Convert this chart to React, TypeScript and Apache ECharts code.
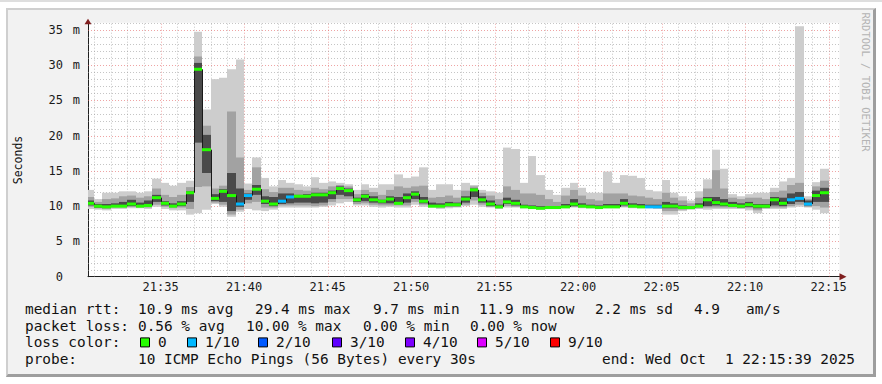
import React, { useEffect, useRef } from 'react';
import * as echarts from 'echarts';

// ---- time base (seconds since midnight) ----
const AXIS_START = '21:30:39';
const AXIS_END = '22:15:39';
const FIRST_STEP = '21:30:30';
const STEP_SECONDS = 30;
const Y_MAX_MS = 36;

// ---- median rtt per 30 s step (ms) ----
const medianMs = [
  10.4, 10.0, 9.9, 10.0, 10.0, 10.3, 10.0, 10.1, 11.2, 10.4,
  10.0, 10.3, 11.9, 29.4, 18.0, 11.1, 12.1, 11.5, 10.3, 11.5,
  12.4, 10.7, 10.3, 10.7, 11.3, 11.4, 11.4, 11.6, 11.6, 11.9,
  12.5, 12.2, 10.9, 11.4, 10.9, 10.7, 11.0, 10.4, 11.2, 11.7,
  10.7, 10.0, 10.0, 10.2, 10.2, 11.0, 12.3, 10.9, 10.3, 9.9,
  10.6, 10.4, 9.9, 9.8, 9.7, 9.8, 9.8, 9.9, 10.3, 10.0,
  9.9, 9.8, 9.9, 9.9, 10.4, 10.0, 9.9, 9.9, 9.9, 10.0,
  10.0, 9.8, 9.8, 10.0, 10.9, 10.5, 10.3, 10.1, 10.0, 10.2,
  10.0, 10.0, 10.9, 10.4, 10.9, 11.1, 10.3, 11.5, 11.9,
];

// ---- lost pings per step (out of 10) ----
const lossTenths = [
  0, 0, 0, 0, 0, 0, 0, 0, 0, 0,
  0, 0, 0, 0, 0, 0, 0, 0, 1, 1,
  0, 0, 0, 1, 1, 0, 0, 0, 0, 0,
  0, 0, 0, 0, 0, 0, 0, 0, 0, 0,
  0, 0, 0, 0, 0, 0, 0, 0, 0, 0,
  0, 0, 0, 0, 0, 0, 0, 0, 0, 0,
  0, 0, 0, 0, 0, 0, 0, 1, 1, 0,
  0, 0, 0, 0, 0, 0, 0, 0, 0, 0,
  0, 0, 0, 0, 1, 1, 1, 0, 0,
];

// ---- smoke: sorted ping spread per step (ms) ----
const pingMin = [
  9.6, 9.5, 9.4, 9.6, 9.6, 9.7, 9.7, 9.6, 9.9, 9.6,
  9.4, 9.4, 8.8, 9.0, 9.5, 10.3, 9.9, 8.5, 9.2, 9.6,
  9.4, 9.3, 9.5, 9.8, 9.8, 9.8, 9.8, 9.8, 9.9, 10.1,
  10.4, 10.6, 10.1, 10.1, 9.9, 9.8, 9.9, 9.8, 9.8, 10.2,
  9.9, 9.8, 9.6, 9.7, 9.8, 10.0, 10.2, 9.9, 9.8, 9.6,
  9.8, 9.8, 9.7, 9.6, 9.5, 9.6, 9.7, 9.7, 9.8, 9.7,
  9.7, 9.6, 9.7, 9.7, 9.8, 9.7, 9.7, 9.7, 9.6, 8.8,
  8.8, 9.3, 9.5, 9.6, 9.5, 9.6, 9.6, 9.6, 9.6, 9.4,
  9.0, 9.6, 9.6, 9.6, 9.8, 9.9, 9.8, 9.5, 9.0,
];
const pingLo2 = [
  9.9, 9.7, 9.6, 9.8, 9.8, 9.9, 9.8, 9.8, 10.2, 9.9,
  9.7, 9.8, 9.6, 12.7, 12.8, 10.5, 10.2, 8.8, 9.5, 10.4,
  10.6, 9.8, 9.8, 10.1, 10.1, 10.1, 10.1, 10.0, 10.1, 10.6,
  11.0, 11.0, 10.3, 10.4, 10.2, 10.1, 10.1, 10.1, 10.1, 10.6,
  10.2, 9.9, 9.8, 9.9, 9.9, 10.2, 10.8, 10.2, 9.9, 9.7,
  10.0, 9.9, 9.8, 9.7, 9.6, 9.7, 9.75, 9.8, 9.9, 9.8,
  9.8, 9.7, 9.8, 9.8, 9.9, 9.8, 9.8, 9.8, 9.7, 9.3,
  9.3, 9.5, 9.6, 9.7, 9.8, 9.8, 9.8, 9.8, 9.7, 9.7,
  9.4, 9.7, 9.8, 9.8, 10.0, 10.2, 9.9, 10.0, 9.8,
];
const pingLo3 = [
  10.1, 9.8, 9.8, 9.9, 9.9, 10.0, 9.9, 10.0, 10.6, 10.1,
  9.9, 10.0, 10.6, 19.0, 14.7, 10.7, 10.6, 9.3, 9.9, 10.9,
  11.6, 10.3, 10.0, 10.3, 10.4, 10.5, 10.5, 10.4, 10.5, 11.0,
  11.6, 11.4, 10.6, 10.7, 10.5, 10.4, 10.4, 10.3, 10.5, 11.0,
  10.4, 9.95, 9.9, 10.0, 10.0, 10.5, 11.3, 10.5, 10.0, 9.8,
  10.3, 10.1, 9.85, 9.75, 9.65, 9.75, 9.8, 9.85, 10.0, 9.9,
  9.85, 9.75, 9.85, 9.85, 10.1, 9.9, 9.85, 9.85, 9.8, 9.7,
  9.7, 9.7, 9.7, 9.9, 10.0, 10.1, 10.0, 9.9, 9.8, 9.9,
  9.7, 9.8, 10.1, 10.0, 10.3, 10.6, 10.1, 10.6, 10.6,
];
const pingHi3 = [
  10.8, 10.3, 10.3, 10.4, 10.6, 10.9, 10.5, 10.8, 11.6, 10.7,
  10.4, 10.7, 12.1, 30.3, 20.1, 11.7, 12.4, 14.7, 12.5, 11.8,
  13.0, 11.4, 11.3, 11.8, 11.8, 11.6, 11.7, 11.9, 11.9, 12.2,
  12.8, 12.5, 11.2, 11.7, 11.4, 10.9, 11.4, 11.3, 11.8, 12.1,
  11.3, 10.5, 10.4, 10.6, 10.5, 11.4, 12.5, 11.4, 10.8, 10.2,
  11.2, 10.9, 10.2, 10.1, 10.0, 10.0, 10.0, 10.3, 11.0, 10.4,
  10.2, 10.1, 10.3, 10.3, 11.0, 10.4, 10.3, 10.2, 10.2, 10.6,
  10.4, 10.1, 10.0, 10.4, 11.3, 11.3, 11.0, 10.6, 10.4, 10.6,
  10.3, 10.3, 11.3, 11.2, 11.8, 12.0, 10.8, 12.2, 12.6,
];
const pingHi2 = [
  11.3, 10.6, 11.0, 11.1, 11.4, 11.5, 11.2, 11.4, 12.5, 11.6,
  11.3, 11.6, 12.7, 31.2, 21.4, 12.5, 12.9, 23.4, 16.9, 12.3,
  15.5, 12.4, 12.0, 12.6, 12.6, 12.3, 12.2, 12.6, 12.4, 12.8,
  13.0, 12.8, 11.7, 12.3, 12.0, 11.6, 12.3, 12.8, 12.6, 12.8,
  12.9, 11.2, 11.3, 11.5, 11.2, 12.2, 12.8, 11.9, 11.5, 11.0,
  12.8, 12.3, 11.8, 11.8, 11.6, 11.0, 10.6, 11.5, 12.3, 11.5,
  11.0, 10.8, 11.8, 11.8, 11.8, 11.5, 11.4, 11.2, 11.0, 11.9,
  11.2, 10.8, 10.4, 11.2, 12.5, 15.1, 12.5, 11.2, 11.0, 11.2,
  11.2, 11.0, 12.0, 12.2, 13.0, 13.3, 11.0, 12.8, 13.6,
];
const pingMax = [
  12.3, 11.0, 11.9, 11.9, 12.1, 12.1, 11.9, 12.1, 13.9, 13.3,
  12.9, 13.3, 13.6, 34.7, 23.7, 28.0, 28.2, 29.4, 30.8, 13.2,
  16.9, 14.0, 12.8, 13.7, 13.3, 13.1, 12.8, 14.1, 13.3, 13.5,
  13.3, 13.1, 12.3, 13.1, 12.6, 13.1, 13.1, 14.5, 14.0, 14.2,
  15.5, 12.3, 13.1, 13.1, 12.3, 13.3, 13.0, 12.3, 12.1, 11.9,
  18.3, 18.1, 13.3, 17.1, 14.4, 12.3, 11.6, 12.6, 13.3, 12.6,
  11.9, 11.9, 14.9, 13.3, 14.4, 14.3, 14.0, 12.3, 12.1, 13.7,
  11.9, 11.4, 10.8, 12.1, 13.8, 18.0, 15.3, 11.7, 11.4, 11.7,
  11.9, 11.9, 12.6, 13.5, 14.0, 35.5, 11.4, 13.4, 15.3,
];

// ---- legend texts ----
const medianStats = ['10.9 ms avg', '29.4 ms max', '9.7 ms min', '11.9 ms now', '2.2 ms sd', '4.9', 'am/s'];
const lossStats = ['0.56 % avg', '10.00 % max', '0.00 % min', '0.00 % now'];
const lossSteps = [0, 1, 2, 3, 4, 5, 9];
const lossLabels = ['0', '1/10', '2/10', '3/10', '4/10', '5/10', '9/10'];
const lossColors = ['#26ff00', '#00b8ff', '#0059ff', '#5e00ff', '#7e00ff', '#dd00ff', '#ff0000'];
const rowTitles = ['median rtt:', 'packet loss:', 'loss color:', 'probe:'];
const probeText = '10 ICMP Echo Pings (56 Bytes) every 30s';
const endTextA = 'end: Wed Oct';
const endTextB = '1 22:15:39 2025';
const yAxisName = 'Seconds';
const watermark = 'RRDTOOL / TOBI OETIKER';

// ---- layout ----
const GRID = { left: 88, top: 22.7, width: 751.5, height: 254 };
const MONO = "'DejaVu Sans Mono', 'Liberation Mono', monospace";
const LEG_FONT = 14.4;
const AX_FONT = 12;
const ROW_Y = [309, 325.7, 342.4, 359];
const MED_X = [138, 255, 373, 479, 595, 694, 746];
const LOSS_X = [138, 246, 363, 470];
const BOX_X = [140, 187, 258, 332, 405, 477, 550];

const toSec = (s: string) => {
  const [h, m, sec] = s.split(':').map(Number);
  return h * 3600 + m * 60 + sec;
};
const X_MIN = toSec(AXIS_START);
const X_MAX = toSec(AXIS_END);
const stepStart = (i: number) => toSec(FIRST_STEP) + i * STEP_SECONDS;
const pad = (n: number) => (n < 10 ? '0' + n : '' + n);
const fmtTime = (v: number) => pad(Math.floor(v / 3600)) + ':' + pad(Math.floor((v % 3600) / 60));
const lossColor = (l: number) => lossColors[Math.max(0, lossSteps.indexOf(l))];

export default function App() {
  const ref = useRef<HTMLDivElement>(null);
  useEffect(() => {
    if (!ref.current) return;
    const chart = echarts.init(ref.current, undefined, { renderer: 'svg' });

    const smokeData = medianMs.map((_, i) => [
      stepStart(i), stepStart(i) + STEP_SECONDS,
      pingMin[i], pingLo2[i], pingLo3[i], pingHi3[i], pingHi2[i], pingMax[i],
    ]);
    const medianData = medianMs.map((m, i) => [
      stepStart(i), stepStart(i) + STEP_SECONDS, m, i > 0 ? medianMs[i - 1] : m, lossTenths[i],
    ]);
    const gridData: number[][] = [];
    for (let t = Math.ceil(X_MIN / 60) * 60; t < X_MAX; t += 60) gridData.push([0, t, t % 300 === 0 ? 1 : 0]);
    for (let v = 1; v <= Y_MAX_MS; v++) gridData.push([1, v, v % 5 === 0 ? 1 : 0]);

    const MINOR = 'rgba(150,150,150,0.55)';
    const MAJOR = 'rgba(225,90,90,0.55)';

    const textEl = (text: string, x: number, y: number, extra: any = {}) => ({
      type: 'text', x, y, z: 10, silent: true,
      style: { text, fontFamily: MONO, fontSize: LEG_FONT, fill: '#111', align: 'left', verticalAlign: 'middle', ...extra },
    });

    const graphics: any[] = [];
    rowTitles.forEach((t, r) => graphics.push(textEl(t, 25, ROW_Y[r])));
    medianStats.forEach((t, i) => graphics.push(textEl(t, MED_X[i], ROW_Y[0])));
    lossStats.forEach((t, i) => graphics.push(textEl(t, LOSS_X[i], ROW_Y[1])));
    lossLabels.forEach((t, i) => {
      graphics.push({
        type: 'rect', z: 10, silent: true,
        shape: { x: BOX_X[i] + 0.5, y: ROW_Y[2] - 4.5, width: 9, height: 9 },
        style: { fill: lossColors[i], stroke: '#000', lineWidth: 1 },
      });
      graphics.push(textEl(t, BOX_X[i] + 18, ROW_Y[2]));
    });
    graphics.push(textEl(probeText, 138, ROW_Y[3]));
    graphics.push(textEl(endTextA, 602, ROW_Y[3]));
    graphics.push(textEl(endTextB, 855, ROW_Y[3], { align: 'right' }));
    const nameEl: any = textEl(yAxisName, 18, 160, { align: 'center', fontSize: 11.5 });
    nameEl.rotation = Math.PI / 2;
    graphics.push(nameEl);
    graphics.push({
      type: 'text', x: 866, y: 82, z: 10, silent: true, rotation: -Math.PI / 2,
      style: { text: watermark, fontFamily: MONO, fontSize: 10.5, fill: '#b4b4b4', align: 'center', verticalAlign: 'middle' },
    });
    // axis arrows
    const gx = GRID.left, gy = GRID.top, gb = GRID.top + GRID.height, gr = GRID.left + GRID.width;
    graphics.push({
      type: 'polygon', z: 12, silent: true,
      shape: { points: [[gx - 3.5, gy + 1.5], [gx + 3.5, gy + 1.5], [gx, gy - 4]] },
      style: { fill: '#801f1f' },
    });
    graphics.push({
      type: 'polygon', z: 12, silent: true,
      shape: { points: [[gr, gb - 3.5], [gr, gb + 3.5], [gr + 7, gb]] },
      style: { fill: '#801f1f' },
    });

    chart.setOption({
      animation: false,
      grid: { ...GRID, show: true, backgroundColor: '#ffffff', borderWidth: 0, containLabel: false },
      xAxis: {
        type: 'value', min: X_MIN, max: X_MAX, minInterval: 300, maxInterval: 300,
        axisLine: { show: true, onZero: false, lineStyle: { color: '#1f1f1f', width: 1 } },
        axisTick: { show: false },
        splitLine: { show: false },
        axisLabel: {
          formatter: (v: number) => fmtTime(v), showMinLabel: false, showMaxLabel: false,
          fontFamily: MONO, fontSize: AX_FONT, color: '#1a1a1a', margin: 4,
        },
      },
      yAxis: {
        type: 'value', min: 0, max: Y_MAX_MS, interval: 5,
        axisLine: { show: true, lineStyle: { color: '#1f1f1f', width: 1 } },
        axisTick: { show: false },
        splitLine: { show: false },
        axisLabel: {
          showMaxLabel: false, margin: 8,
          formatter: (v: number) => (v === 0 ? '{n|0}{e|}' : `{n|${v}}{u|m}`),
          rich: {
            n: { fontFamily: MONO, fontSize: AX_FONT, color: '#1a1a1a' },
            u: { fontFamily: MONO, fontSize: AX_FONT, color: '#1a1a1a', width: 17, align: 'right' },
            e: { width: 17 },
          },
        },
      },
      series: [
        {
          type: 'custom', name: 'grid', silent: true, z: 1, data: gridData,
          renderItem: (_p: any, api: any) => {
            const kind = api.value(0), v = api.value(1), major = api.value(2);
            let p0, p1;
            if (kind === 0) { p0 = api.coord([v, 0]); p1 = api.coord([v, Y_MAX_MS]); }
            else { p0 = api.coord([X_MIN, v]); p1 = api.coord([X_MAX, v]); }
            const x1 = Math.round(p0[0]) + 0.5, x2 = Math.round(p1[0]) + 0.5;
            const y1 = Math.round(p0[1]) + 0.5, y2 = Math.round(p1[1]) + 0.5;
            return {
              type: 'line', shape: { x1: kind === 0 ? x1 : p0[0], y1: kind === 0 ? p0[1] : y1, x2: kind === 0 ? x2 : p1[0], y2: kind === 0 ? p1[1] : y2 },
              style: { stroke: major ? MAJOR : MINOR, lineWidth: 1, lineDash: [1, 2] },
            };
          },
        },
        {
          type: 'custom', name: 'smoke', silent: true, z: 2, data: smokeData,
          renderItem: (_p: any, api: any) => {
            const t0 = Math.max(api.value(0), X_MIN), t1 = api.value(1);
            const bands: [number, number, string][] = [[2, 7, '#cdcdcd'], [3, 6, '#a2a2a2'], [4, 5, '#4a4a4a']];
            return {
              type: 'group',
              children: bands.map(([lo, hi, c]) => {
                const a = api.coord([t0, api.value(hi)]);
                const b = api.coord([t1, api.value(lo)]);
                const x0 = Math.round(a[0]), x1 = Math.round(b[0]);
                return { type: 'rect', shape: { x: x0, y: a[1], width: x1 - x0, height: b[1] - a[1] }, style: { fill: c } };
              }),
            };
          },
        },
        {
          type: 'custom', name: 'median', silent: true, z: 3, data: medianData,
          renderItem: (p: any, api: any) => {
            const t0 = Math.max(api.value(0), X_MIN), t1 = api.value(1);
            const a = api.coord([t0, api.value(2)]);
            const b = api.coord([t1, api.value(2)]);
            const prev = api.coord([t0, api.value(3)]);
            const x0 = Math.round(a[0]), x1 = Math.round(b[0]);
            const children: any[] = [];
            if (p.dataIndex > 0) {
              children.push({
                type: 'line', shape: { x1: x0 + 0.5, y1: prev[1], x2: x0 + 0.5, y2: a[1] },
                style: { stroke: '#1a1a1a', lineWidth: 1 },
              });
            }
            children.push({
              type: 'rect', shape: { x: x0, y: a[1] - 1.5, width: x1 - x0, height: 3 },
              style: { fill: lossColor(api.value(4)) },
            });
            return { type: 'group', children };
          },
        },
      ],
      graphic: graphics,
    });
    return () => chart.dispose();
  }, []);

  return (
    <div style={{ position: 'fixed', left: 0, top: 0, width: 882, height: 384, background: '#ffffff' }}>
      <div style={{ position: 'absolute', left: 0, top: 0, width: 882, height: 2, background: '#dedede' }} />
      <div
        style={{
          position: 'absolute', left: 6, top: 8, width: 870, height: 369, boxSizing: 'border-box',
          background: '#f2f2f2', borderTop: '2px solid #cfcfcf', borderLeft: '2px solid #cfcfcf',
          borderRight: '3px solid #9e9e9e', borderBottom: '3px solid #9e9e9e',
        }}
      />
      <div ref={ref} style={{ position: 'absolute', left: 0, top: 0, width: 882, height: 384 }} />
    </div>
  );
}
